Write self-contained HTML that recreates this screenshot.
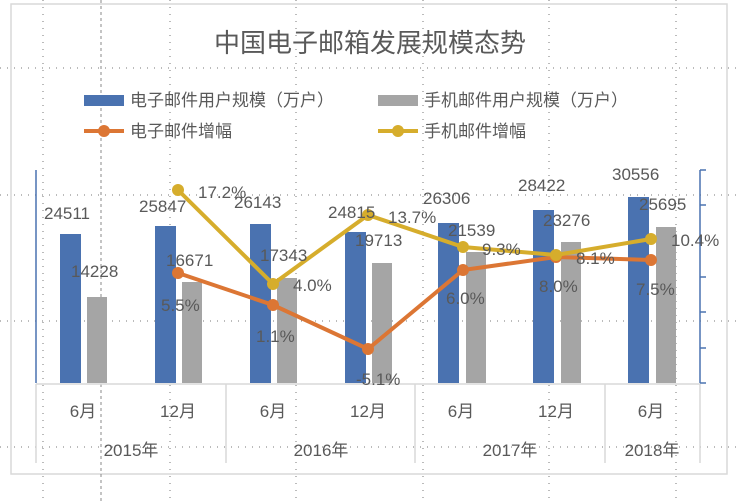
<!DOCTYPE html><html><head><meta charset="utf-8"><style>body{margin:0;background:#fff}svg{display:block}text{font-family:"Liberation Sans","Noto Sans CJK SC",sans-serif;fill:#595959}</style></head><body>
<svg width="741" height="503" viewBox="0 0 741 503">
<rect x="0" y="0" width="741" height="503" fill="#fff"/>
<rect x="11" y="4" width="716" height="470" fill="none" stroke="#d9d9d9" stroke-width="1.5"/>
<g stroke="#777" stroke-width="1" stroke-dasharray="1,6">
<line x1="0" y1="68" x2="741" y2="68"/><line x1="0" y1="195" x2="741" y2="195"/><line x1="0" y1="321" x2="741" y2="321"/><line x1="0" y1="447" x2="741" y2="447"/>
<line x1="43" y1="0" x2="43" y2="503"/><line x1="170" y1="0" x2="170" y2="503"/><line x1="296" y1="0" x2="296" y2="503"/><line x1="423" y1="0" x2="423" y2="503"/><line x1="549" y1="0" x2="549" y2="503"/><line x1="676" y1="0" x2="676" y2="503"/>
</g>
<line x1="101" y1="0" x2="101" y2="503" stroke="#888" stroke-dasharray="3,3"/>
<text x="370" y="52" font-size="26" text-anchor="middle">中国电子邮箱发展规模态势</text>
<rect x="84" y="95" width="40" height="11" fill="#4a72b0"/><text x="130" y="106" font-size="17">电子邮件用户规模（万户）</text>
<rect x="378" y="95" width="40" height="11" fill="#a5a5a5"/><text x="424" y="106" font-size="17">手机邮件用户规模（万户）</text>
<line x1="84" y1="131" x2="124" y2="131" stroke="#dc7634" stroke-width="4"/><circle cx="104" cy="131" r="6" fill="#dc7634"/><text x="130" y="137" font-size="17">电子邮件增幅</text>
<line x1="378" y1="131" x2="418" y2="131" stroke="#d6ad2c" stroke-width="4"/><circle cx="398" cy="131" r="6" fill="#d6ad2c"/><text x="424" y="137" font-size="17">手机邮件增幅</text>
<line x1="36" y1="170" x2="36" y2="383" stroke="#4a72b0" stroke-width="1.5"/>
<g stroke="#4a72b0" stroke-width="1.5"><line x1="700" y1="170" x2="700" y2="383"/><line x1="700" y1="170" x2="706" y2="170"/><line x1="700" y1="205" x2="706" y2="205"/><line x1="700" y1="277" x2="706" y2="277"/><line x1="700" y1="312" x2="706" y2="312"/><line x1="700" y1="348" x2="706" y2="348"/><line x1="700" y1="383" x2="706" y2="383"/></g>
<g fill="#4a72b0">
<rect x="60" y="234" width="21" height="149"/><rect x="155" y="226" width="21" height="157"/><rect x="250" y="224" width="21" height="159"/><rect x="345" y="232" width="21" height="151"/><rect x="438" y="223" width="21" height="160"/><rect x="533" y="210" width="21" height="173"/><rect x="628" y="197" width="21" height="186"/>
</g>
<g fill="#a5a5a5">
<rect x="87" y="297" width="20" height="86"/><rect x="182" y="282" width="20" height="101"/><rect x="277" y="278" width="20" height="105"/><rect x="372" y="263" width="20" height="120"/><rect x="466" y="252" width="20" height="131"/><rect x="561" y="242" width="20" height="141"/><rect x="656" y="227" width="20" height="156"/>
</g>
<g stroke="#d9d9d9" stroke-width="1.5"><line x1="36" y1="384" x2="700" y2="384"/><line x1="36" y1="384" x2="36" y2="463"/><line x1="226" y1="384" x2="226" y2="463"/><line x1="415" y1="384" x2="415" y2="463"/><line x1="605" y1="384" x2="605" y2="463"/><line x1="700" y1="384" x2="700" y2="463"/></g>
<polyline points="178,273 273,305 368,349 463,270 556,257 651,260" fill="none" stroke="#dc7634" stroke-width="4"/>
<g fill="#dc7634"><circle cx="178" cy="273" r="6"/><circle cx="273" cy="305" r="6"/><circle cx="368" cy="349" r="6"/><circle cx="463" cy="270" r="6"/><circle cx="556" cy="257" r="6"/><circle cx="651" cy="260" r="6"/></g>
<polyline points="178,190 273,284 368,215 463,247 556,255 651,239" fill="none" stroke="#d6ad2c" stroke-width="4"/>
<g fill="#d6ad2c"><circle cx="178" cy="190" r="6"/><circle cx="273" cy="284" r="6"/><circle cx="368" cy="215" r="6"/><circle cx="463" cy="247" r="6"/><circle cx="556" cy="255" r="6"/><circle cx="651" cy="239" r="6"/></g>
<g font-size="17">
<text x="44" y="219">24511</text><text x="139" y="212">25847</text><text x="234" y="208">26143</text><text x="328" y="218">24815</text><text x="423" y="204">26306</text><text x="518" y="191">28422</text><text x="612" y="180">30556</text>
<text x="71" y="277">14228</text><text x="166" y="266">16671</text><text x="260" y="261">17343</text><text x="355" y="246">19713</text><text x="448" y="236">21539</text><text x="543" y="226">23276</text><text x="639" y="210">25695</text>
<text x="161" y="311">5.5%</text><text x="256" y="342">1.1%</text><text x="356" y="385">-5.1%</text><text x="446" y="304">6.0%</text><text x="539" y="292">8.0%</text><text x="636" y="295">7.5%</text>
<text x="198" y="198">17.2%</text><text x="293" y="291">4.0%</text><text x="388" y="223">13.7%</text><text x="482" y="255">9.3%</text><text x="576" y="264">8.1%</text><text x="671" y="246">10.4%</text>
</g>
<g font-size="17" text-anchor="middle">
<text x="83" y="417">6月</text><text x="178" y="417">12月</text><text x="273" y="417">6月</text><text x="368" y="417">12月</text><text x="461" y="417">6月</text><text x="556" y="417">12月</text><text x="651" y="417">6月</text>
<text x="131" y="456">2015年</text><text x="321" y="456">2016年</text><text x="510" y="456">2017年</text><text x="652" y="456">2018年</text>
</g>
</svg></body></html>
